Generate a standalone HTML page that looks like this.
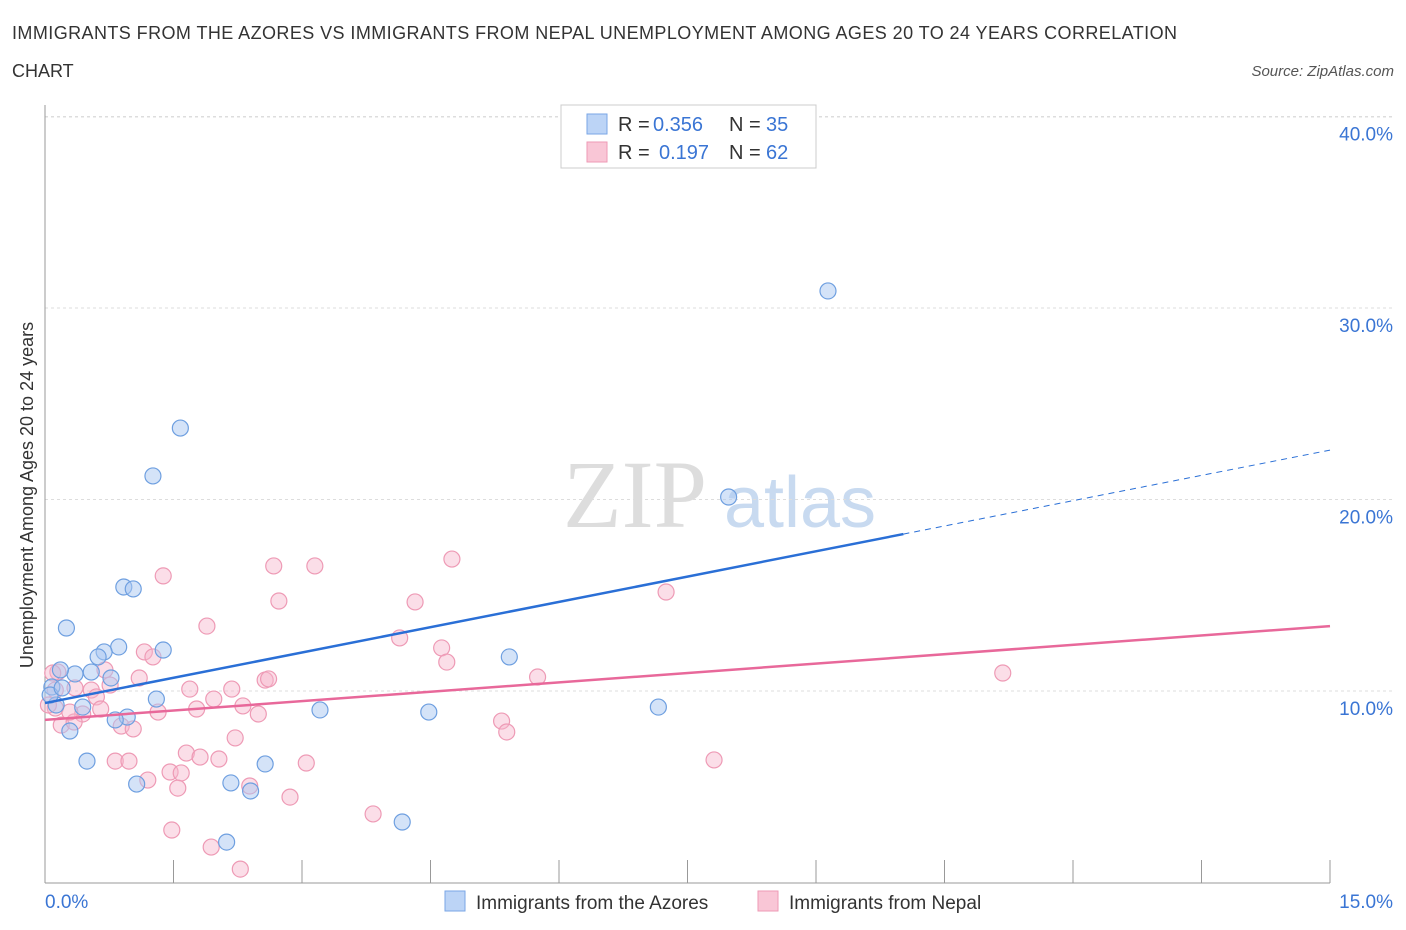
<!DOCTYPE html>
<html><head><meta charset="utf-8"><style>
body{margin:0;background:#fff;font-family:"Liberation Sans",sans-serif;}
#wrap{position:relative;width:1406px;height:930px;overflow:hidden;}
</style></head><body>
<div id="wrap">
<svg id="svg" width="1406" height="930" xmlns="http://www.w3.org/2000/svg">
<text x="12" y="39" font-size="18" fill="#333" textLength="1165">IMMIGRANTS FROM THE AZORES VS IMMIGRANTS FROM NEPAL UNEMPLOYMENT AMONG AGES 20 TO 24 YEARS CORRELATION</text>
<text x="12" y="77" font-size="18" fill="#333">CHART</text>
<text x="1394" y="76" font-size="15" fill="#555" font-style="italic" text-anchor="end">Source: ZipAtlas.com</text>
<text x="635" y="527" font-size="96" fill="#ddd" font-family="Liberation Serif,serif" text-anchor="middle">ZIP</text>
<text x="800" y="527" font-size="72" fill="#c8daf0" text-anchor="middle">atlas</text>
<text transform="translate(33,495) rotate(-90)" font-size="18" fill="#333" text-anchor="middle">Unemployment Among Ages 20 to 24 years</text>
<g id="grid"></g><g id="marks"></g>
<g>
<rect x="561" y="105" width="255" height="63" fill="#fff" stroke="#ccc"/>
<rect x="587" y="114" width="20" height="20" fill="#bcd4f6" stroke="#7aa6e6"/>
<rect x="587" y="142" width="20" height="20" fill="#f9c6d6" stroke="#ee9ab5"/>
<text x="618" y="131" font-size="20" fill="#333">R =</text>
<text x="653" y="131" font-size="20" fill="#3a75d4">0.356</text>
<text x="729" y="131" font-size="20" fill="#333">N =</text>
<text x="766" y="131" font-size="20" fill="#3a75d4">35</text>
<text x="618" y="159" font-size="20" fill="#333">R =</text>
<text x="659" y="159" font-size="20" fill="#3a75d4">0.197</text>
<text x="729" y="159" font-size="20" fill="#333">N =</text>
<text x="766" y="159" font-size="20" fill="#3a75d4">62</text>
</g>
<g>
<rect x="445" y="891" width="20" height="20" fill="#bcd4f6" stroke="#7aa6e6"/>
<text x="476" y="909" font-size="19" fill="#333">Immigrants from the Azores</text>
<rect x="758" y="891" width="20" height="20" fill="#f9c6d6" stroke="#ee9ab5"/>
<text x="789" y="909" font-size="19" fill="#333">Immigrants from Nepal</text>
</g>
</svg></div>
<script>
const blueX=[9.14,1.58,1.26,7.98,0.92,1.03,0.25,0.86,1.38,0.69,0.62,5.42,0.77,0.35,0.54,0.08,0.18,1.30,0.13,0.44,3.21,4.48,7.16,0.96,0.82,0.29,0.49,2.57,1.07,2.17,2.40,4.17,2.12,0.06,0.20];
const blueY=[30.89,23.73,21.23,20.13,15.43,15.33,13.29,12.30,12.14,12.04,11.78,11.78,10.68,10.89,10.99,10.21,11.10,9.58,9.27,9.16,9.01,8.90,9.16,8.64,8.49,7.91,6.34,6.19,5.14,5.20,4.78,3.16,2.11,9.79,10.16];
const pinkX=[4.75,1.38,2.67,3.15,2.73,4.32,7.25,1.89,4.14,1.16,1.26,4.63,4.69,0.15,0.70,1.10,5.75,2.57,2.61,1.69,2.18,0.54,0.35,0.09,0.60,1.97,2.31,1.77,0.65,1.32,2.49,0.12,0.44,0.19,0.34,0.89,1.03,5.33,5.39,2.22,1.65,1.81,2.03,0.82,0.98,3.05,7.81,1.46,1.59,1.20,2.39,1.55,2.86,3.83,1.48,1.94,2.28,11.18,0.12,0.29,0.04,0.76];
const pinkY=[16.89,16.01,16.53,16.53,14.70,14.65,15.17,13.39,12.77,12.04,11.78,12.25,11.51,10.99,11.10,10.68,10.73,10.57,10.63,10.10,10.10,10.05,10.16,10.94,9.69,9.58,9.22,9.06,9.06,8.90,8.80,9.11,8.80,8.22,8.38,8.17,8.02,8.43,7.86,7.55,6.76,6.55,6.45,6.34,6.34,6.24,6.40,5.77,5.72,5.35,5.04,4.93,4.46,3.58,2.74,1.85,0.70,10.94,10.05,8.90,9.27,10.31];
const yTicks=[10,20,30,40];
const yTickLabels=["10.0%","20.0%","30.0%","40.0%"];
const xTicks=[0,1.5,3,4.5,6,7.5,9,10.5,12,13.5,15];
const blueTrend=[9.37,22.58], pinkTrend=[8.49,13.39], blueSolidEnd=10.02;
const NS="http://www.w3.org/2000/svg";
const sx=v=>45+v/15*1285, sy=v=>882.5-v*19.15;
function mk(tag,attrs,parent){const e=document.createElementNS(NS,tag);for(const k in attrs)e.setAttribute(k,attrs[k]);parent.appendChild(e);return e;}
const grid=document.getElementById('grid'),marks=document.getElementById('marks');
yTicks.forEach((t,i)=>{
 const l=mk('line',{x1:45,x2:1392,y1:sy(t),y2:sy(t),stroke:'#ddd','stroke-dasharray':'3,3'},grid);
 
 
 const tx=mk('text',{x:1393,y:sy(t)+24,'font-size':19,fill:'#3a75d4','text-anchor':'end'},grid);
 tx.textContent=yTickLabels[i];
 
 
});
const topGrid=mk('line',{x1:45,x2:1392,y1:117,y2:117,stroke:'#ddd','stroke-dasharray':'3,3'},grid);


const ya=mk('line',{x1:45,x2:45,y1:105,y2:883,stroke:'#999'},grid);


const xa=mk('line',{x1:45,x2:1330,y1:883,y2:883,stroke:'#999'},grid);


xTicks.forEach(t=>{const l=mk('line',{x1:sx(t),x2:sx(t),y1:860,y2:883,stroke:'#999'},grid);
 
 });
const xl0=mk('text',{x:45,y:908,'font-size':19,fill:'#3a75d4'},grid);xl0.textContent="0.0%";


const xl1=mk('text',{x:1393,y:908,'font-size':19,fill:'#3a75d4','text-anchor':'end'},grid);xl1.textContent="15.0%";


pinkX.forEach((x,i)=>{const c=mk('circle',{cx:sx(x),cy:sy(pinkY[i]),r:8,fill:'rgba(246,182,203,0.45)',stroke:'#ee9ab5','stroke-width':1.2},marks);
 
 });
blueX.forEach((x,i)=>{const c=mk('circle',{cx:sx(x),cy:sy(blueY[i]),r:8,fill:'rgba(170,200,242,0.5)',stroke:'#6e9fe0','stroke-width':1.2},marks);
 
 });
const bAt=x=>blueTrend[0]+(blueTrend[1]-blueTrend[0])*x/15;
const bl=mk('line',{x1:sx(0),y1:sy(bAt(0)),x2:sx(blueSolidEnd),y2:sy(bAt(blueSolidEnd)),stroke:'#2a6fd6','stroke-width':2.5},marks);


const bd=mk('line',{x1:sx(blueSolidEnd),y1:sy(bAt(blueSolidEnd)),x2:sx(15),y2:sy(bAt(15)),stroke:'#2a6fd6','stroke-width':1,'stroke-dasharray':'6,5'},marks);


const pl=mk('line',{x1:sx(0),y1:sy(pinkTrend[0]),x2:sx(15),y2:sy(pinkTrend[1]),stroke:'#e8689a','stroke-width':2.5},marks);


</script>
</body></html>
